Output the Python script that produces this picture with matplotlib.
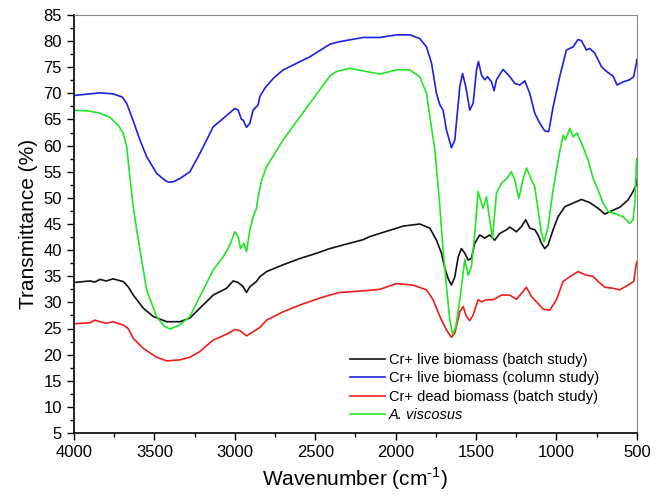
import numpy as np
import matplotlib.pyplot as plt

plt.rcParams['font.family'] = ['Liberation Sans', 'DejaVu Sans']
plt.rcParams['mathtext.fontset'] = 'custom'
plt.rcParams['mathtext.rm'] = 'Liberation Sans'

# Cr+ live biomass (batch study)
wn_batch = [4000, 3901, 3870, 3838, 3800, 3756, 3720, 3694, 3663, 3631, 3569, 3507, 3424, 3341, 3279,
            3217, 3134, 3051, 3010, 2979, 2948, 2927, 2906, 2865, 2844, 2802, 2699, 2595, 2492,
            2409, 2300, 2202, 2160, 2057, 1994, 1953, 1850, 1787, 1746, 1715, 1694, 1674, 1653,
            1632, 1611, 1591, 1570, 1549, 1529, 1508, 1477, 1446, 1415, 1384, 1352, 1311, 1290,
            1249, 1218, 1191, 1166, 1135, 1114, 1093, 1073, 1052, 1021, 990, 948, 897, 845, 793,
            741, 700, 658, 607, 555, 524, 503, 500]
t_batch = [33.8, 34.1, 33.9, 34.4, 34.1, 34.5, 34.2, 34.0, 33.0, 31.4, 28.9, 27.3, 26.3, 26.3, 27.0,
           28.9, 31.4, 32.7, 34.1, 33.8, 33.0, 31.9, 33.0, 34.0, 34.9, 35.9, 37.2, 38.4, 39.4,
           40.3, 41.2, 42.0, 42.6, 43.6, 44.2, 44.6, 45.0, 44.2, 41.9, 39.4, 36.5, 34.6, 33.3,
           34.9, 38.7, 40.3, 39.4, 38.1, 38.4, 41.3, 42.9, 42.3, 42.9, 41.9, 43.2, 43.9, 44.4,
           43.5, 44.5, 45.8, 44.2, 43.9, 42.9, 41.3, 40.3, 41.0, 43.9, 46.4, 48.3, 49.0, 49.7, 49.1,
           48.0, 46.9, 47.5, 48.2, 49.6, 51.2, 52.5, 53.5]

# Cr+ live biomass (column study)
wn_column = [4000, 3838, 3757, 3700, 3672, 3633, 3590, 3548, 3486, 3440, 3414, 3380, 3341, 3279, 3217,
             3134, 3072, 3000, 2979, 2958, 2948, 2927, 2906, 2886, 2855, 2844, 2813, 2760, 2699, 2533,
             2409, 2347, 2202, 2098, 1994, 1912, 1850, 1808, 1777, 1746, 1725, 1705, 1684, 1653,
             1632, 1601, 1584, 1564, 1539, 1518, 1497, 1485, 1466, 1446, 1429, 1404, 1388, 1373,
             1332, 1290, 1259, 1228, 1197, 1166, 1135, 1104, 1073, 1048, 1021, 980, 938, 897, 866,
             845, 814, 793, 762, 720, 689, 648, 623, 586, 545, 520, 503, 500]
t_column = [69.6, 70.1, 69.9, 69.3, 68.1, 64.9, 61.1, 57.9, 54.7, 53.5, 53.0, 53.1, 53.7, 55.0, 58.5,
            63.6, 65.2, 67.1, 66.8, 65.0, 64.9, 63.5, 64.3, 66.8, 67.8, 69.4, 71.0, 72.9, 74.5, 77.0,
            79.4, 79.9, 80.7, 80.7, 81.2, 81.2, 80.5, 78.9, 75.8, 70.0, 67.8, 66.8, 63.0, 59.6,
            61.1, 71.3, 73.8, 71.3, 66.8, 68.1, 74.5, 76.1, 73.5, 72.6, 73.2, 72.2, 70.5, 72.6,
            74.6, 73.2, 71.9, 71.6, 72.4, 70.0, 66.2, 64.3, 62.8, 62.7, 67.4, 73.2, 78.3, 78.9, 80.3,
            80.1, 78.3, 78.6, 77.7, 75.1, 74.2, 73.3, 71.6, 72.2, 72.6, 73.2, 75.8, 76.5]

# Cr+ dead biomass (batch study)
wn_dead = [4000, 3901, 3870, 3838, 3800, 3756, 3720, 3694, 3663, 3631, 3569, 3486, 3424, 3341, 3279,
           3217, 3134, 3051, 3000, 2968, 2927, 2896, 2844, 2802, 2699, 2595, 2492, 2409, 2347,
           2202, 2098, 1994, 1891, 1808, 1767, 1725, 1684, 1653, 1632, 1601, 1580, 1560, 1539,
           1518, 1487, 1466, 1435, 1394, 1342, 1290, 1249, 1218, 1187, 1155, 1124, 1083, 1042,
           1000, 959, 917, 866, 814, 773, 741, 700, 648, 607, 555, 520, 503, 500]
t_dead = [25.9, 26.1, 26.6, 26.3, 26.0, 26.3, 25.9, 25.7, 25.0, 23.1, 21.2, 19.5, 18.8, 19.0, 19.5,
          20.6, 22.8, 23.9, 24.8, 24.6, 23.6, 24.2, 25.2, 26.6, 28.2, 29.5, 30.6, 31.4, 31.9,
          32.2, 32.5, 33.6, 33.3, 32.4, 30.5, 27.3, 24.7, 23.3, 24.1, 28.2, 29.2, 27.3, 26.5,
          27.6, 30.5, 30.1, 30.5, 30.5, 31.4, 31.4, 30.6, 31.7, 32.9, 31.1, 30.1, 28.7, 28.5,
          30.5, 34.0, 34.9, 35.9, 35.2, 35.0, 34.0, 32.9, 32.7, 32.4, 33.3, 34.0, 37.5, 37.8]

# A. viscosus
wn_visc = [4000, 3901, 3838, 3776, 3725, 3694, 3672, 3652, 3631, 3610, 3548, 3486, 3440, 3403, 3341,
           3279, 3217, 3134, 3072, 3030, 3000, 2979, 2964, 2943, 2927, 2906, 2886, 2865, 2855, 2833,
           2802, 2699, 2595, 2409, 2367, 2285, 2202, 2098, 1994, 1912, 1850, 1808, 1787, 1756,
           1725, 1705, 1684, 1663, 1646, 1626, 1601, 1570, 1549, 1529, 1508, 1487, 1456, 1435,
           1415, 1398, 1373, 1342, 1311, 1280, 1259, 1234, 1207, 1186, 1155, 1135, 1114, 1093,
           1077, 1052, 1021, 1000, 980, 959, 944, 917, 897, 872, 835, 803, 772, 741, 710, 679,
           638, 586, 545, 524, 513, 503, 500]
t_visc = [66.8, 66.6, 66.2, 65.4, 63.9, 62.4, 59.8, 54.0, 48.3, 43.9, 32.4, 27.3, 25.5, 24.9, 25.7,
          27.3, 31.1, 36.2, 38.7, 41.0, 43.5, 42.6, 40.3, 41.3, 39.7, 43.9, 46.4, 48.0, 50.2, 53.4,
          56.0, 61.1, 65.5, 73.3, 74.2, 74.8, 74.3, 73.7, 74.5, 74.5, 73.2, 70.0, 65.5, 59.2,
          48.3, 40.0, 33.0, 26.6, 23.9, 25.3, 30.4, 38.2, 35.2, 36.8, 43.2, 51.2, 48.0, 50.2,
          45.8, 42.3, 50.9, 52.8, 53.6, 55.0, 53.4, 49.9, 53.7, 55.7, 53.4, 52.1, 47.7, 43.2,
          41.6, 44.5, 51.5, 55.3, 58.8, 62.0, 61.1, 63.3, 61.7, 62.4, 59.8, 57.2, 53.7, 51.5, 49.0, 47.4,
          47.0, 46.4, 45.1, 45.8, 49.0, 56.6, 57.5]

fig = plt.figure(figsize=(6.6, 5), dpi=100)
ax = fig.add_axes([0.112, 0.134, 0.853, 0.836])

ax.plot(wn_batch, t_batch, color='#111111', lw=1.2, label='Cr+ live biomass (batch study)')
ax.plot(wn_column, t_column, color='#1f1fe0', lw=1.2, label='Cr+ live biomass (column study)')
ax.plot(wn_dead, t_dead, color='#f01c1c', lw=1.2, label='Cr+ dead biomass (batch study)')
ax.plot(wn_visc, t_visc, color='#22e622', lw=1.2, label='A. viscosus')

ax.set_xlim(4000, 500)
ax.set_ylim(5, 85)
ax.set_xticks(np.arange(4000, 499, -500))
ax.set_xticks(np.arange(3750, 500, -500), minor=True)
ax.set_yticks(np.arange(5, 86, 5))
ax.set_yticks(np.arange(7.5, 85, 5), minor=True)
ax.tick_params(which='both', direction='out', top=False, right=False, labelsize=12)
ax.tick_params(which='major', length=5, width=1)
ax.tick_params(which='minor', length=3, width=1)

for s in ['top', 'right']:
    ax.spines[s].set_color('#888888')
    ax.spines[s].set_linewidth(0.8)
for s in ['left', 'bottom']:
    ax.spines[s].set_linewidth(1.2)

ax.set_xlabel('Wavenumber (cm$^{\\text{-1}}$)', fontsize=15)
ax.set_ylabel('Transmittance (%)', fontsize=15)

leg = ax.legend(loc='lower left', bbox_to_anchor=(0.49, 0.026), frameon=False, fontsize=10.5,
                handlelength=2.4, handletextpad=0.3, labelspacing=0.3, borderpad=0, borderaxespad=0)
leg.get_texts()[3].set_fontstyle('italic')

fig.savefig('out.png', dpi=100)
